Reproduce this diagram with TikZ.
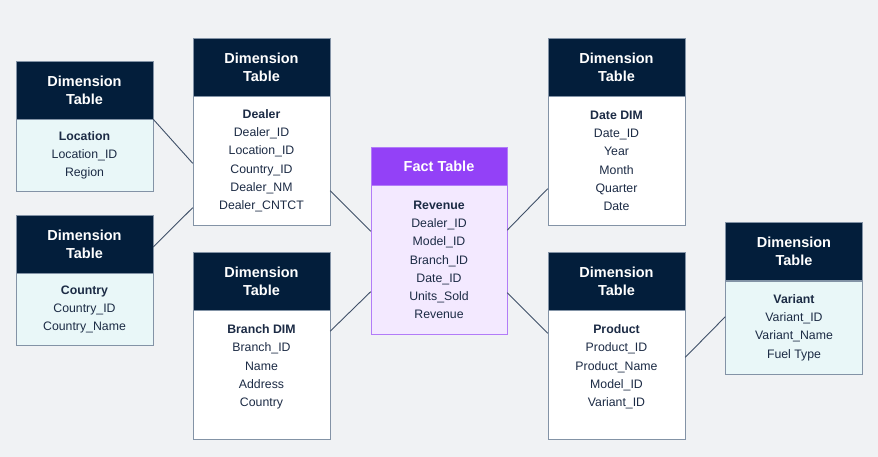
\documentclass[tikz,border=0pt]{standalone}
\usepackage{fontspec}
\setmainfont{Liberation Sans}
\usepackage{xcolor}
\usetikzlibrary{positioning}

\definecolor{bgcol}{HTML}{F0F2F4}
\definecolor{navy}{HTML}{031E3B}
\definecolor{inkcol}{HTML}{1C2B45}
\definecolor{edgecol}{HTML}{3F5068}
\definecolor{framecol}{HTML}{8393A6}
\definecolor{factcol}{HTML}{9341F7}
\definecolor{factbg}{HTML}{F3E9FF}
\definecolor{factframe}{HTML}{B27CF8}
\definecolor{cyanbg}{HTML}{E9F7F8}

\tikzset{
  dimhead/.style={draw=framecol, fill=navy, text=white, align=center,
    font=\fontsize{14.5}{18.3}\selectfont\bfseries,
    minimum width=137pt, minimum height=58pt, inner sep=0pt},
  facthead/.style={dimhead, draw=factframe, fill=factcol,
    minimum width=136pt, minimum height=38pt},
  dimbody/.style={draw=framecol, fill=white, text=inkcol, align=center,
    font=\fontsize{12.3}{18.3}\selectfont,
    minimum width=137pt, inner sep=0pt},
  keybody/.style={dimbody, fill=cyanbg},
  factbody/.style={dimbody, draw=factframe, fill=factbg, minimum width=136pt},
  link/.style={draw=edgecol, line width=0.9pt}
}

\begin{document}
\begin{tikzpicture}[x=1pt, y=-1pt]
    \fill[bgcol] (0,0) rectangle (878,457);
    \useasboundingbox (0,0) rectangle (878,457);

    % Headers
    \node[dimhead] (lochead) at (84.5, 90) {Dimension\\Table};
    \node[dimhead] (countryhead) at (84.5, 244) {Dimension\\Table};
    \node[dimhead] (dealerhead) at (261.5, 67) {Dimension\\Table};
    \node[dimhead] (branchhead) at (261.5, 281) {Dimension\\Table};
    \node[facthead] (facthead) at (439, 166) {Fact Table};
    \node[dimhead] (datehead) at (616.5, 67) {Dimension\\Table};
    \node[dimhead] (producthead) at (616.5, 281) {Dimension\\Table};
    \node[dimhead] (varianthead) at (794, 251.5) {Dimension\\Table};

    % Bodies
    \node[keybody, minimum height=72pt, below=0pt of lochead] (loc)
      {\textbf{Location}\\Location\_ID\\Region};
    \node[keybody, minimum height=72pt, below=0pt of countryhead] (country)
      {\textbf{Country}\\Country\_ID\\Country\_Name};
    \node[dimbody, minimum height=129pt, below=0pt of dealerhead] (dealer)
      {\textbf{Dealer}\\Dealer\_ID\\Location\_ID\\Country\_ID\\Dealer\_NM\\Dealer\_CNTCT};
    \node[dimbody, minimum height=129pt, below=0pt of branchhead] (branch)
      {\textbf{Branch DIM}\\Branch\_ID\\Name\\Address\\Country\\~};
    \node[factbody, minimum height=149pt, below=0pt of facthead] (fact)
      {\textbf{Revenue}\\Dealer\_ID\\Model\_ID\\Branch\_ID\\Date\_ID\\Units\_Sold\\Revenue};
    \node[dimbody, minimum height=129pt, below=0pt of datehead] (date)
      {\textbf{Date DIM}\\Date\_ID\\Year\\Month\\Quarter\\Date};
    \node[dimbody, minimum height=129pt, below=0pt of producthead] (product)
      {\textbf{Product}\\Product\_ID\\Product\_Name\\Model\_ID\\Variant\_ID\\~};
    \node[keybody, minimum height=93pt, below=0pt of varianthead] (variant)
      {\textbf{Variant}\\Variant\_ID\\Variant\_Name\\Fuel Type};

    % Edges
    \draw[link] (loc.north east) -- ([yshift=-2.5pt]dealer.west);
    \draw[link] ([yshift=-3pt]countryhead.east) -- ([yshift=18pt]dealer.south west);
    \draw[link] ([yshift=35pt]dealer.south east) -- ([yshift=-46pt]fact.north west);
    \draw[link] ([yshift=-21pt]branch.north east) -- ([yshift=43pt]fact.south west);
    \draw[link] ([yshift=-45pt]fact.north east) -- ([yshift=37pt]date.south west);
    \draw[link] ([yshift=42pt]fact.south east) -- ([yshift=-23pt]product.north west);
    \draw[link] ([yshift=17.5pt]product.east) -- ([yshift=-36pt]variant.north west);
\end{tikzpicture}
\end{document}
